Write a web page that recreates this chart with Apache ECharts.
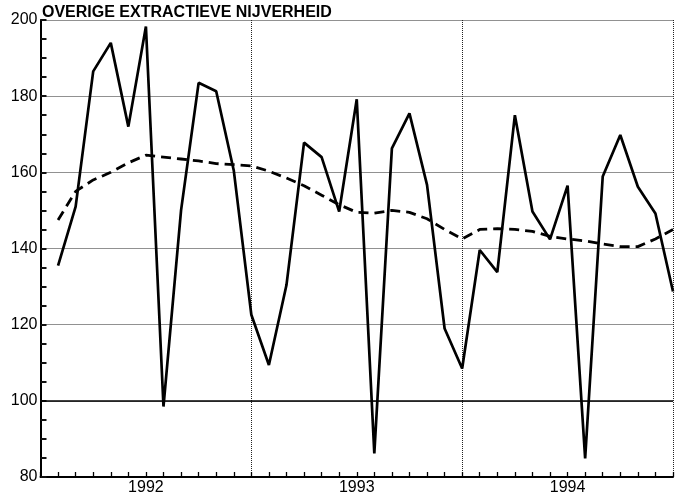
<!DOCTYPE html>
<html>
<head>
<meta charset="utf-8">
<script src="https://cdn.jsdelivr.net/npm/echarts@6/dist/echarts.min.js"></script>
<style>
  html, body { margin: 0; padding: 0; background: #fff; }
  #chart { width: 680px; height: 499px; }
</style>
</head>
<body>
<div id="chart"></div>
<script>
const years = ['1992', '1993', '1994'];

// monthly index, Jan 1992 .. Dec 1994
const production = [
  135.5, 151, 186.5, 194, 172, 198.3, 98.5, 150, 183.5, 181.3, 160.5, 122.6,
  109.4, 130.4, 167.8, 164, 149.7, 179.2, 86.2, 166.3, 175.5, 156.7, 119, 108.5,
  139.6, 133.8, 175, 149.7, 142.4, 156.5, 84.9, 158.9, 169.8, 156.2, 149.2, 128.7
];

// trend (dashed)
const trend = [
  147.5, 155, 158, 160, 162.5, 164.5, 164, 163.5, 163, 162.3, 162, 161.7,
  160.3, 158.5, 156.5, 154, 151.5, 149.5, 149.3, 150, 149.5, 147.8, 145, 142.5,
  145, 145.2, 145, 144.5, 143.2, 142.5, 142, 141.2, 140.5, 140.5, 142.5, 145
];

const yTicks = { min: 80, max: 200, step: 20 };

// one slot for the start of the axis, then one per month end
const months = ['1991-12'];
years.forEach(y => {
  for (let m = 1; m <= 12; m++) months.push(y + '-' + String(m).padStart(2, '0'));
});

const chart = echarts.init(document.getElementById('chart'));
const font = 'Liberation Sans, Arial, sans-serif';
const dotted = { color: '#222', width: 1, type: [1, 1] };

chart.setOption({
  animation: false,
  title: {
    text: 'OVERIGE EXTRACTIEVE NIJVERHEID',
    left: 37,
    top: 0,
    textStyle: { fontFamily: font, fontSize: 16, fontWeight: 'bold', color: '#000' }
  },
  grid: { left: 40.5, right: 7, top: 20, bottom: 22 },
  xAxis: {
    type: 'category',
    boundaryGap: false,
    data: months,
    axisLine: { lineStyle: { color: '#000', width: 2 } },
    axisTick: { inside: true, length: 5, interval: 0, lineStyle: { color: '#000', width: 1.3 } },
    axisLabel: {
      interval: (i) => i % 12 === 6,
      formatter: (v) => v.slice(0, 4),
      fontFamily: font, fontSize: 16, color: '#000', margin: 3
    },
    splitLine: {
      show: true,
      interval: (i) => i > 0 && i % 12 === 0,
      lineStyle: dotted
    }
  },
  yAxis: {
    type: 'value',
    min: yTicks.min,
    max: yTicks.max,
    interval: yTicks.step,
    axisLine: { show: true, lineStyle: { color: '#000', width: 2 } },
    axisTick: { show: true, inside: true, length: 6, lineStyle: { color: '#111', width: 2 } },
    minorTick: { show: true, splitNumber: 4, length: 6, lineStyle: { color: '#111', width: 2 } },
    axisLabel: { fontFamily: font, fontSize: 16, color: '#000', margin: 3 },
    splitLine: { lineStyle: dotted }
  },
  series: [
    {
      type: 'line',
      data: [null].concat(production),
      symbol: 'none',
      lineStyle: { color: '#000', width: 2.7 },
      markLine: {
        silent: true,
        symbol: 'none',
        label: { show: false },
        lineStyle: { color: '#000', width: 1.6, type: 'solid' },
        data: [{ yAxis: 100 }]
      }
    },
    {
      type: 'line',
      data: [null].concat(trend),
      symbol: 'none',
      lineStyle: { color: '#000', width: 2.8, type: [10, 6] }
    }
  ]
});
</script>
</body>
</html>
